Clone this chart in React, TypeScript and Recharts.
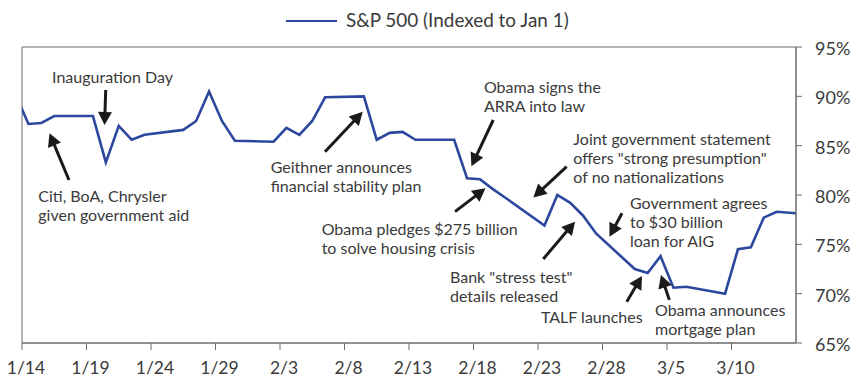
import React from 'react';
import { LineChart, Line, XAxis, YAxis, Legend, ReferenceLine, ReferenceDot, ReferenceArea } from 'recharts';

// Trading dates (holidays carry the prior close) and S&P 500 indexed values (%)
const DATES = ['1/13','1/14','1/15','1/16','1/19','1/20','1/21','1/22','1/23','1/26','1/27','1/28','1/29','1/30',
  '2/2','2/3','2/4','2/5','2/6','2/9','2/10','2/11','2/12','2/13','2/16','2/17','2/18','2/19','2/20',
  '2/23','2/24','2/25','2/26','2/27','3/2','3/3','3/4','3/5','3/6','3/9','3/10','3/11','3/12','3/13','3/16'];
const SP500 = [90.2,87.2,87.3,88.0,88.0,83.3,87.0,85.6,86.1,86.6,87.5,90.5,87.5,85.5,
  85.4,86.8,86.1,87.5,89.9,90.0,85.6,86.3,86.4,85.6,85.6,81.7,81.6,80.6,79.7,
  76.9,80.0,79.2,77.9,76.1,72.5,72.1,73.8,70.6,70.7,70.0,74.5,74.7,77.7,78.3,78.0];
const X_TICK_LABELS = ['1/14','1/19','1/24','1/29','2/3','2/8','2/13','2/18','2/23','2/28','3/5','3/10'];
const Y_TICKS = [65,70,75,80,85,90,95];
const SERIES_NAME = 'S&P 500 (Indexed to Jan 1)';

// Annotation texts, anchored in data units (day index, percent)
const NOTE_TEXTS = [
  ['Inauguration Day'],
  ['Citi, BoA, Chrysler','given government aid'],
  ['Geithner announces','financial stability plan'],
  ['Obama signs the','ARRA into law'],
  ['Joint government statement','offers "strong presumption"','of no nationalizations'],
  ['Obama pledges $275 billion','to solve housing crisis'],
  ['Bank "stress test"','details released'],
  ['Government agrees','to $30 billion','loan for AIG'],
  ['TALF launches'],
  ['Obama announces','mortgage plan'],
];
const NOTE_X = [1.83,0.76,18.78,35.31,42.24,22.73,32.68,46.63,39.73,48.57];
const NOTE_Y = [91.35,79.24,82.18,90.32,85.07,75.9,71.09,78.54,67.04,67.75];
// Arrows: tail -> tip in data units
const ARROW_TAIL_X = [5.99,3.14,22.99,36.03,41.72,33.07,39.91,46.01,46.38,49.68];
const ARROW_TAIL_Y = [90.64,81.52,84.39,87.6,82.87,78.31,73.52,78.15,69.19,69.37];
const ARROW_TIP_X = [5.9,1.63,25.91,34.34,39.14,35.43,42.37,45.04,47.56,49.03];
const ARROW_TIP_Y = [87.1,86.26,88.44,82.92,79.75,80.68,77.3,75.78,71.8,71.9];

const dayIndex = (label: string) => {
  const [m, d] = label.split('/').map(Number);
  const doy = m === 1 ? d : m === 2 ? 31 + d : 59 + d;
  return doy - 14;
};
const data = DATES.map((d, i) => ({ x: dayIndex(d), v: SP500[i] }));
const xTicks = X_TICK_LABELS.map((l) => dayIndex(l) - 0.5);
const tickLabelFor = (v: number) => {
  const i = xTicks.findIndex((t) => Math.abs(t - v) < 1e-6);
  return i >= 0 ? X_TICK_LABELS[i] : '';
};

const FONT = 'Lato, "Open Sans", sans-serif';
const TEXT_COLOR = '#3a3a3a';
const AXIS_COLOR = '#6b6b6b';
const LINE_COLOR = '#2c489e';

const Arrow = (props: any) => {
  const { x1, y1, x2, y2 } = props;
  const dx = x2 - x1, dy = y2 - y1;
  const len = Math.sqrt(dx * dx + dy * dy) || 1;
  const ux = dx / len, uy = dy / len;
  const hl = 13, hw = 7;
  const bx = x2 - ux * hl, by = y2 - uy * hl;
  const pts = `${x2},${y2} ${bx - uy * hw},${by + ux * hw} ${bx + uy * hw},${by - ux * hw}`;
  return (
    <g>
      <line x1={x1} y1={y1} x2={bx + ux * 1} y2={by + uy * 1} stroke="#1a1a1a" strokeWidth={3} />
      <polygon points={pts} fill="#1a1a1a" />
    </g>
  );
};

const makeNote = (lines: string[]) => (props: any) => {
  const { cx, cy } = props;
  return (
    <text x={cx} y={cy} fill={TEXT_COLOR} fontFamily={FONT} fontSize={16}>
      {lines.map((l, i) => (
        <tspan key={i} x={cx} dy={i === 0 ? 0 : 18.8}>{l}</tspan>
      ))}
    </text>
  );
};

const LegendContent = (props: any) => {
  const item = (props.payload && props.payload[0]) || { value: SERIES_NAME, color: LINE_COLOR };
  return (
    <div style={{ position: 'relative', width: 859, height: 47 }}>
      <div style={{ position: 'absolute', left: 286, top: 19.5, width: 51, height: 2.6, background: item.color }} />
      <div style={{ position: 'absolute', left: 346, top: 8, fontFamily: FONT, fontSize: 18.9, color: TEXT_COLOR, whiteSpace: 'nowrap', lineHeight: '24px' }}>
        {item.value}
      </div>
    </div>
  );
};

export default function App() {
  return (
    <div style={{ position: 'absolute', left: 0, top: 0, width: 859, height: 380 }}>
      <LineChart width={859} height={380} data={data} margin={{ top: 0, right: 0, bottom: 0, left: 22 }}>
        <Legend verticalAlign="top" align="left" wrapperStyle={{ left: 0, top: 0, width: 859, height: 47 }} content={<LegendContent />} />
        <XAxis
          type="number"
          dataKey="x"
          domain={[-0.5, 59.5]}
          allowDataOverflow
          ticks={xTicks}
          tickFormatter={tickLabelFor}
          interval={0}
          height={37}
          tickSize={7}
          tickMargin={12}
          stroke={AXIS_COLOR}
          tick={{ fill: TEXT_COLOR, fontSize: 17.5, fontFamily: FONT, dx: 4 }}
        />
        <YAxis
          orientation="right"
          type="number"
          domain={[65, 95]}
          allowDataOverflow
          ticks={Y_TICKS}
          tickFormatter={(v: number) => `${v}%`}
          width={63}
          tickSize={6}
          tickMargin={13}
          stroke={AXIS_COLOR}
          tick={{ fill: TEXT_COLOR, fontSize: 18, fontFamily: FONT, dy: 1.5 }}
        />
        <ReferenceArea x1={-0.5} x2={59.5} y1={65} y2={95} fill="none" fillOpacity={0} stroke={AXIS_COLOR} strokeWidth={1} />
        <Line
          type="linear"
          dataKey="v"
          name={SERIES_NAME}
          stroke={LINE_COLOR}
          strokeWidth={2.6}
          dot={false}
          activeDot={false}
          isAnimationActive={false}
          strokeLinejoin="miter"
        />
        {NOTE_TEXTS.map((lines, i) => (
          <ReferenceDot key={`n${i}`} x={NOTE_X[i]} y={NOTE_Y[i]} r={0} shape={makeNote(lines)} ifOverflow="visible" />
        ))}
        {ARROW_TAIL_X.map((_, i) => (
          <ReferenceLine
            key={`a${i}`}
            segment={[{ x: ARROW_TAIL_X[i], y: ARROW_TAIL_Y[i] }, { x: ARROW_TIP_X[i], y: ARROW_TIP_Y[i] }]}
            shape={Arrow}
            ifOverflow="visible"
          />
        ))}
      </LineChart>
    </div>
  );
}
